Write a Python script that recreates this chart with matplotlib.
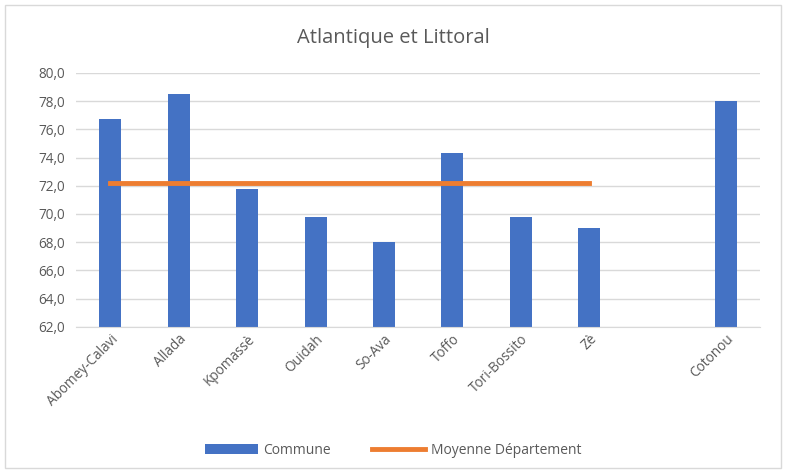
import numpy as np
import matplotlib.pyplot as plt
from matplotlib.patches import Rectangle

# chart data
communes = ["Abomey-Calavi", "Allada", "Kpomassè", "Ouidah", "So-Ava", "Toffo",
            "Tori-Bossito", "Zè", "", "Cotonou"]
valeurs = [76.7, 78.5, 71.8, 69.8, 68.0, 74.3, 69.8, 69.0, np.nan, 78.0]
moyenne = [72.2, 72.2, 72.2, 72.2, 72.2, 72.2, 72.2, 72.2, np.nan, np.nan]

bleu = "#4472C4"
orange = "#ED7D31"
gris = "#595959"

plt.rcParams['font.family'] = ['Open Sans', 'DejaVu Sans']

fig = plt.figure(figsize=(7.86, 4.73), dpi=100)
ax = fig.add_axes([0.097, 0.309, 0.870, 0.537])

x = np.arange(len(communes))
barres = ax.bar(x, valeurs, width=0.32, color=bleu, label="Commune", zorder=2)
ligne, = ax.plot(x, moyenne, color=orange, linewidth=3.5, label="Moyenne Département", zorder=3)

ax.set_xlim(-0.5, len(communes) - 0.5)
ax.set_ylim(62, 80)
ax.set_yticks(np.arange(62, 81, 2))
ax.set_yticklabels([f"{v:.1f}".replace(".", ",") for v in np.arange(62, 81, 2)])
ax.set_xticks(x)
ax.set_xticklabels(communes, rotation=45, ha="right", rotation_mode="anchor")

ax.grid(axis="y", color="#D9D9D9", linewidth=1, zorder=0)
for s in ["top", "right", "left"]:
    ax.spines[s].set_visible(False)
ax.spines["bottom"].set_color("#D9D9D9")
ax.tick_params(axis="both", length=0, colors=gris, labelsize=9.8)
ax.tick_params(axis="y", pad=8)

fig.text(0.5, 0.92, "Atlantique et Littoral", ha="center", va="center",
         fontsize=14.5, color=gris)

fig.legend([barres, ligne], ["Commune", "Moyenne Département"],
           loc="center", bbox_to_anchor=(0.5, 0.048), ncol=2, frameon=False,
           fontsize=10, labelcolor=gris, handlelength=3.8, handletextpad=0.4,
           columnspacing=3.0)

# outer chart border
fig.patches.append(Rectangle((0.006, 0.01), 0.988, 0.98, transform=fig.transFigure,
                             fill=False, edgecolor="#D9D9D9", linewidth=1))

fig.savefig("out.png", dpi=100)
